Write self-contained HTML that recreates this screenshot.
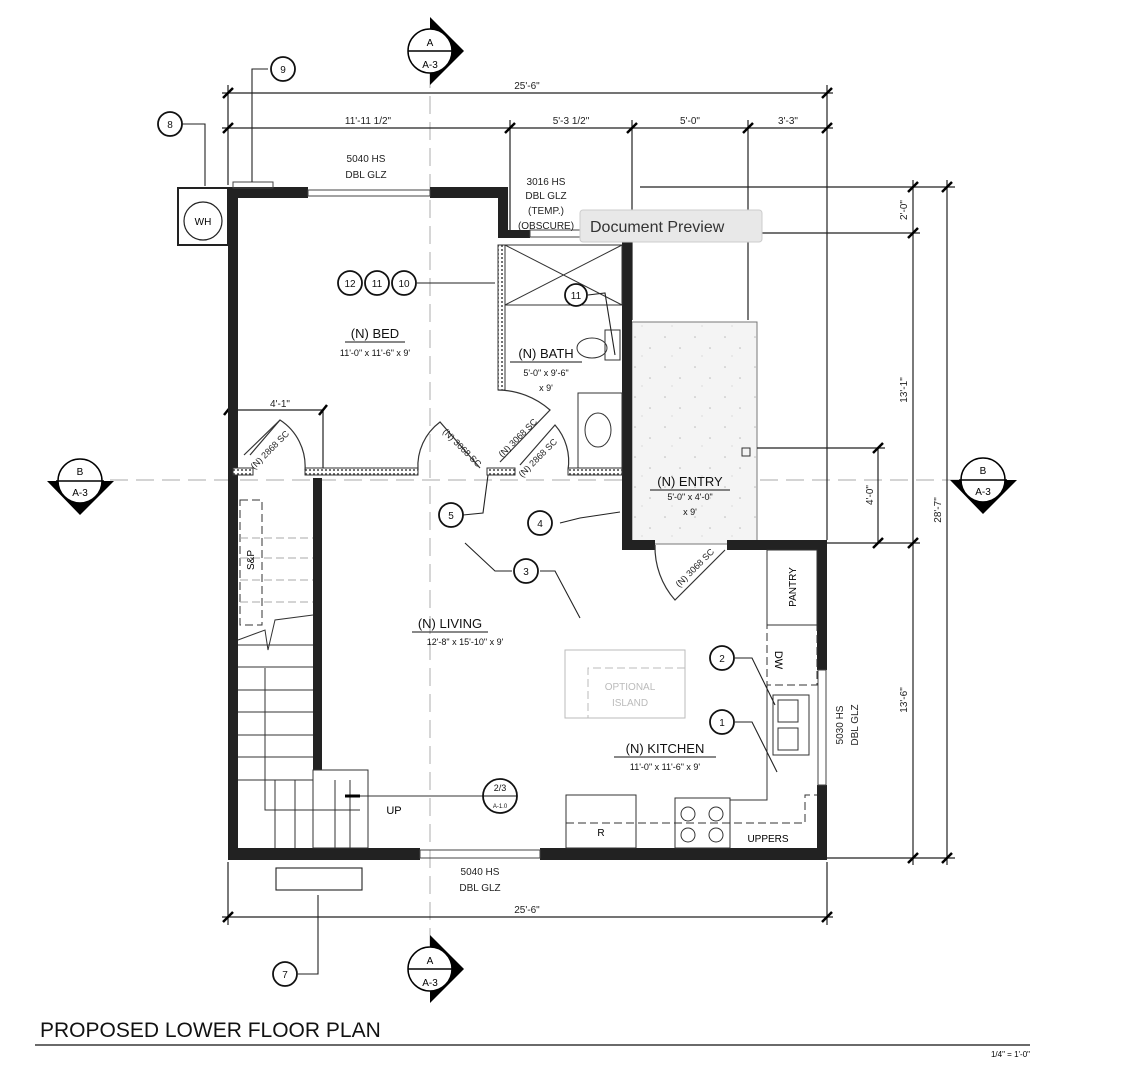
<!DOCTYPE html>
<html><head><meta charset="utf-8"><style>
html,body{margin:0;padding:0;background:#fff;}
svg{display:block;font-family:"Liberation Sans",sans-serif;}
</style></head><body>
<svg width="1140" height="1080" viewBox="0 0 1140 1080" xmlns="http://www.w3.org/2000/svg">
<defs>
<pattern id="hatch" width="4" height="4" patternUnits="userSpaceOnUse"><rect width="4" height="4" fill="#fff"/><circle cx="2" cy="2" r="1" fill="#444"/></pattern>
<pattern id="speck" width="30" height="30" patternUnits="userSpaceOnUse"><rect width="30" height="30" fill="#f4f4f4"/><circle cx="5" cy="7" r="0.8" fill="#bbb"/><circle cx="20" cy="18" r="0.8" fill="#bbb"/><circle cx="12" cy="26" r="0.6" fill="#ccc"/></pattern>
</defs>
<!-- section lines -->
<g stroke="#bbb" stroke-width="1.2" stroke-dasharray="18,8" fill="none">
<line x1="430" y1="70" x2="430" y2="950"/>
<line x1="110" y1="480" x2="960" y2="480"/>
</g>
<!-- entry -->
<rect x="632" y="322" width="125" height="222" fill="url(#speck)" stroke="#777" stroke-width="1"/>
<!-- dimension lines -->
<g stroke="#222" stroke-width="1.2" fill="none">
<line x1="222" y1="93" x2="833" y2="93"/>
<line x1="222" y1="128" x2="833" y2="128"/>
<line x1="228" y1="85" x2="228" y2="185"/><line x1="827" y1="85" x2="827" y2="540"/>
<line x1="510" y1="120" x2="510" y2="230"/><line x1="632" y1="120" x2="632" y2="320"/><line x1="748" y1="120" x2="748" y2="320"/>
<line x1="222" y1="917" x2="833" y2="917"/>
<line x1="228" y1="862" x2="228" y2="925"/><line x1="827" y1="862" x2="827" y2="925"/>
<line x1="913" y1="180" x2="913" y2="865"/><line x1="947" y1="180" x2="947" y2="865"/>
<line x1="640" y1="187" x2="955" y2="187"/>
<line x1="757" y1="233" x2="920" y2="233"/>
<line x1="757" y1="448" x2="885" y2="448"/>
<line x1="827" y1="543" x2="920" y2="543"/>
<line x1="827" y1="858" x2="955" y2="858"/>
<line x1="878" y1="448" x2="878" y2="543"/>
<line x1="228" y1="410" x2="323" y2="410"/><line x1="323" y1="410" x2="323" y2="470"/>
</g>
<g stroke="#000" stroke-width="2.5">
<line x1="223" y1="98" x2="233" y2="88"/><line x1="822" y1="98" x2="832" y2="88"/>
<line x1="223" y1="133" x2="233" y2="123"/><line x1="505" y1="133" x2="515" y2="123"/><line x1="627" y1="133" x2="637" y2="123"/><line x1="743" y1="133" x2="753" y2="123"/><line x1="822" y1="133" x2="832" y2="123"/>
<line x1="223" y1="922" x2="233" y2="912"/><line x1="822" y1="922" x2="832" y2="912"/>
<line x1="908" y1="192" x2="918" y2="182"/><line x1="908" y1="238" x2="918" y2="228"/><line x1="908" y1="548" x2="918" y2="538"/><line x1="908" y1="863" x2="918" y2="853"/>
<line x1="942" y1="192" x2="952" y2="182"/><line x1="942" y1="863" x2="952" y2="853"/>
<line x1="873" y1="453" x2="883" y2="443"/><line x1="873" y1="548" x2="883" y2="538"/>
<line x1="224" y1="415" x2="232" y2="405"/><line x1="319" y1="415" x2="327" y2="405"/>
</g>
<g font-size="10" fill="#222" text-anchor="middle">
<text x="527" y="89">25'-6"</text>
<text x="368" y="124">11'-11 1/2"</text>
<text x="571" y="124">5'-3 1/2"</text>
<text x="690" y="124">5'-0"</text>
<text x="788" y="124">3'-3"</text>
<text x="527" y="913">25'-6"</text>
<text x="280" y="407">4'-1"</text>
<text transform="translate(907,210) rotate(-90)">2'-0"</text>
<text transform="translate(907,390) rotate(-90)">13'-1"</text>
<text transform="translate(907,700) rotate(-90)">13'-6"</text>
<text transform="translate(941,510) rotate(-90)">28'-7"</text>
<text transform="translate(873,495) rotate(-90)">4'-0"</text>
<text x="366" y="162">5040 HS</text><text x="366" y="178">DBL GLZ</text>
<text x="546" y="185">3016 HS</text><text x="546" y="199">DBL GLZ</text><text x="546" y="214">(TEMP.)</text><text x="546" y="229">(OBSCURE)</text>
<text x="480" y="875">5040 HS</text><text x="480" y="891">DBL GLZ</text>
<text transform="translate(843,725) rotate(-90)">5030 HS</text>
<text transform="translate(858,725) rotate(-90)">DBL GLZ</text>
</g>
<!-- walls -->
<g fill="#222">
<rect x="228" y="187" width="10" height="673"/>
<rect x="228" y="187" width="80" height="11"/>
<rect x="430" y="187" width="78" height="11"/>
<rect x="498" y="187" width="10" height="50"/>
<rect x="498" y="230" width="32" height="8"/>
<rect x="622" y="240" width="10" height="310"/>
<rect x="622" y="540" width="33" height="10"/>
<rect x="727" y="540" width="100" height="10"/>
<rect x="817" y="540" width="10" height="130"/>
<rect x="817" y="785" width="10" height="75"/>
<rect x="228" y="848" width="192" height="12"/>
<rect x="540" y="848" width="287" height="12"/>
<rect x="313" y="478" width="9" height="292"/>
<rect x="178" y="188" width="50" height="57" fill="none" stroke="#222" stroke-width="2"/>
</g>
<g fill="none" stroke="#444" stroke-width="1">
<rect x="308" y="190" width="122" height="6"/>
<rect x="530" y="230" width="92" height="7"/>
<rect x="818" y="670" width="8" height="115"/>
<rect x="420" y="850" width="120" height="8"/>
<rect x="233" y="182" width="40" height="6"/>
</g>
<!-- hatched walls -->
<g fill="url(#hatch)" stroke="#333" stroke-width="1">
<rect x="233" y="468" width="20" height="7"/>
<rect x="305" y="468" width="113" height="7"/>
<rect x="487" y="468" width="28" height="7"/>
<rect x="568" y="468" width="54" height="7"/>
<rect x="498" y="245" width="7" height="145"/>
</g>
<!-- WH -->
<circle cx="203" cy="221" r="19" fill="none" stroke="#222" stroke-width="1.2"/>
<text x="203" y="225" font-size="10" text-anchor="middle">WH</text>
<!-- doors -->
<g fill="none" stroke="#333" stroke-width="1.2">
<path d="M305,470 A55,55 0 0 0 280,420 L250,455"/>
<path d="M418,470 A55,55 0 0 1 440,422 L480,468"/>
<path d="M498,390 A80,80 0 0 1 550,410 L500,462"/>
<path d="M568,470 A55,55 0 0 0 555,425 L520,465"/>
<path d="M655,545 A80,80 0 0 0 675,600 L725,550"/>
<line x1="244" y1="455" x2="280" y2="420"/>
</g>
<g font-size="9" fill="#222" text-anchor="middle">
<text transform="translate(272,452) rotate(-45)">(N) 2868 SC</text>
<text transform="translate(460,450) rotate(45)">(N) 3068 SC</text>
<text transform="translate(520,440) rotate(-45)">(N) 3068 SC</text>
<text transform="translate(540,460) rotate(-45)">(N) 2868 SC</text>
<text transform="translate(697,570) rotate(-45)">(N) 3068 SC</text>
</g>
<!-- bath fixtures -->
<g fill="none" stroke="#333" stroke-width="1">
<rect x="505" y="245" width="117" height="60"/>
<line x1="505" y1="245" x2="622" y2="305"/><line x1="622" y1="245" x2="505" y2="305"/>
<rect x="605" y="330" width="15" height="30"/>
<ellipse cx="592" cy="348" rx="15" ry="10"/>
<rect x="578" y="393" width="44" height="75"/>
<ellipse cx="598" cy="430" rx="13" ry="17"/>
<rect x="742" y="448" width="8" height="8"/>
</g>
<!-- stairs -->
<g fill="none" stroke="#333" stroke-width="1">
<line x1="238" y1="645" x2="313" y2="645"/>
<line x1="238" y1="667" x2="313" y2="667"/><line x1="238" y1="690" x2="313" y2="690"/><line x1="238" y1="712" x2="313" y2="712"/><line x1="238" y1="735" x2="313" y2="735"/><line x1="238" y1="757" x2="313" y2="757"/><line x1="238" y1="780" x2="313" y2="780"/>
<rect x="313" y="770" width="55" height="78"/>
<line x1="275" y1="780" x2="275" y2="848"/><line x1="295" y1="780" x2="295" y2="848"/><line x1="335" y1="780" x2="335" y2="848"/><line x1="350" y1="780" x2="350" y2="848"/>
<polyline points="265,668 265,810 360,810"/>
<polyline points="238,640 265,630 268,650 275,620 313,615"/>
<rect x="240" y="500" width="22" height="125" stroke-dasharray="8,4"/>
<line x1="240" y1="538" x2="313" y2="538" stroke-dasharray="8,4" stroke="#aaa"/>
<line x1="240" y1="558" x2="313" y2="558" stroke-dasharray="8,4" stroke="#aaa"/>
<line x1="240" y1="580" x2="313" y2="580" stroke-dasharray="8,4" stroke="#aaa"/>
<line x1="240" y1="602" x2="313" y2="602" stroke-dasharray="8,4" stroke="#aaa"/>
</g>
<line x1="345" y1="796" x2="360" y2="796" stroke="#000" stroke-width="3"/>
<line x1="360" y1="796" x2="485" y2="796" stroke="#333" stroke-width="1"/>
<text x="394" y="814" font-size="11" text-anchor="middle">UP</text>
<text transform="translate(254,560) rotate(-90)" font-size="10" text-anchor="middle">S&amp;P</text>
<!-- kitchen -->
<g fill="none" stroke="#333" stroke-width="1">
<rect x="767" y="550" width="50" height="75"/>
<rect x="767" y="625" width="50" height="60" stroke-dasharray="8,4"/>
<rect x="773" y="695" width="36" height="60"/>
<rect x="778" y="700" width="20" height="22"/><rect x="778" y="728" width="20" height="22"/>
<rect x="566" y="795" width="70" height="53"/>
<rect x="675" y="798" width="55" height="50"/>
<circle cx="688" cy="814" r="7"/><circle cx="716" cy="814" r="7"/><circle cx="688" cy="835" r="7"/><circle cx="716" cy="835" r="7"/>
<polyline points="566,823 805,823 805,795 817,795" stroke-dasharray="8,4"/>
<polyline points="730,800 767,800 767,685" />
<rect x="565" y="650" width="120" height="68" stroke="#bbb"/>
<polyline points="685,668 588,668 588,718" stroke="#bbb" stroke-dasharray="8,4"/>
</g>
<text x="630" y="690" font-size="10" fill="#bbb" text-anchor="middle">OPTIONAL</text>
<text x="630" y="706" font-size="10" fill="#bbb" text-anchor="middle">ISLAND</text>
<text transform="translate(796,587) rotate(-90)" font-size="10" text-anchor="middle">PANTRY</text>
<text transform="translate(775,660) rotate(90)" font-size="11" text-anchor="middle">DW</text>
<text x="601" y="836" font-size="10" text-anchor="middle">R</text>
<text x="768" y="842" font-size="10" text-anchor="middle">UPPERS</text>
<!-- room labels -->
<g fill="#111" text-anchor="middle">
<text x="375" y="338" font-size="13">(N) BED</text><line x1="345" y1="342" x2="405" y2="342" stroke="#111"/>
<text x="375" y="356" font-size="9">11'-0" x 11'-6" x 9'</text>
<text x="546" y="358" font-size="13">(N) BATH</text><line x1="510" y1="362" x2="582" y2="362" stroke="#111"/>
<text x="546" y="376" font-size="9">5'-0" x 9'-6"</text><text x="546" y="391" font-size="9">x 9'</text>
<text x="690" y="486" font-size="13">(N) ENTRY</text><line x1="650" y1="490" x2="730" y2="490" stroke="#111"/>
<text x="690" y="500" font-size="9">5'-0" x 4'-0"</text><text x="690" y="515" font-size="9">x 9'</text>
<text x="450" y="628" font-size="13">(N) LIVING</text><line x1="412" y1="632" x2="488" y2="632" stroke="#111"/>
<text x="465" y="645" font-size="9">12'-8" x 15'-10" x 9'</text>
<text x="665" y="753" font-size="13">(N) KITCHEN</text><line x1="614" y1="757" x2="716" y2="757" stroke="#111"/>
<text x="665" y="770" font-size="9">11'-0" x 11'-6" x 9'</text>
</g>
<!-- callouts -->
<g fill="none" stroke="#222" stroke-width="1.1">
<polyline points="180,124 205,124 205,186"/>
<polyline points="268,69 252,69 252,182"/>
<line x1="417" y1="283" x2="495" y2="283"/>
<polyline points="588,295 605,293 615,355"/>
<polyline points="463,515 483,513 488,475"/>
<polyline points="560,523 580,518 620,512"/>
<polyline points="512,571 495,571 465,543"/>
<polyline points="540,571 555,571 580,618"/>
<polyline points="735,658 752,658 775,705"/>
<polyline points="735,722 752,722 777,772"/>
<polyline points="298,974 318,974 318,895"/>
<rect x="276" y="868" width="86" height="22"/>
</g>
<g fill="#fff" stroke="#111" stroke-width="1.8" font-size="10">
<circle cx="283" cy="69" r="12"/><circle cx="170" cy="124" r="12"/>
<circle cx="350" cy="283" r="12"/><circle cx="377" cy="283" r="12"/><circle cx="404" cy="283" r="12"/>
<circle cx="576" cy="295" r="11"/>
<circle cx="451" cy="515" r="12"/><circle cx="540" cy="523" r="12"/><circle cx="526" cy="571" r="12"/>
<circle cx="722" cy="658" r="12"/><circle cx="722" cy="722" r="12"/><circle cx="285" cy="974" r="12"/>
<circle cx="500" cy="796" r="17"/>
</g>
<line x1="483" y1="796" x2="517" y2="796" stroke="#111" stroke-width="1"/>
<g font-size="10" text-anchor="middle" fill="#111">
<text x="283" y="73">9</text><text x="170" y="128">8</text>
<text x="350" y="287">12</text><text x="377" y="287">11</text><text x="404" y="287">10</text>
<text x="576" y="299">11</text>
<text x="451" y="519">5</text><text x="540" y="527">4</text><text x="526" y="575">3</text>
<text x="722" y="662">2</text><text x="722" y="726">1</text><text x="285" y="978">7</text>
<text x="500" y="791" font-size="9">2/3</text><text x="500" y="808" font-size="6">A-1.0</text>
</g>
<!-- section markers -->
<g font-size="10" text-anchor="middle">
<polygon points="430,17 464,51 430,85" fill="#000"/>
<circle cx="430" cy="51" r="22" fill="#fff" stroke="#000" stroke-width="1.5"/>
<line x1="408" y1="51" x2="452" y2="51" stroke="#000" stroke-width="1.5"/>
<text x="430" y="46">A</text><text x="430" y="68">A-3</text>
<polygon points="430,935 464,969 430,1003" fill="#000"/>
<circle cx="430" cy="969" r="22" fill="#fff" stroke="#000" stroke-width="1.5"/>
<line x1="408" y1="969" x2="452" y2="969" stroke="#000" stroke-width="1.5"/>
<text x="430" y="964">A</text><text x="430" y="986">A-3</text>
<polygon points="47,481 114,481 80,515" fill="#000"/>
<circle cx="80" cy="481" r="22" fill="#fff" stroke="#000" stroke-width="1.5"/>
<line x1="56" y1="481" x2="104" y2="481" stroke="#000" stroke-width="1.5"/>
<text x="80" y="475">B</text><text x="80" y="496">A-3</text>
<polygon points="950,480 1017,480 983,514" fill="#000"/>
<circle cx="983" cy="480" r="22" fill="#fff" stroke="#000" stroke-width="1.5"/>
<line x1="959" y1="480" x2="1007" y2="480" stroke="#000" stroke-width="1.5"/>
<text x="983" y="474">B</text><text x="983" y="495">A-3</text>
</g>
<!-- tooltip -->
<rect x="580" y="210" width="182" height="32" rx="3" fill="#e8e8e8" stroke="#ccc"/>
<text x="590" y="232" font-size="16" fill="#333">Document Preview</text>
<!-- title -->
<text x="40" y="1037" font-size="21" fill="#111">PROPOSED LOWER FLOOR PLAN</text>
<line x1="35" y1="1045" x2="1030" y2="1045" stroke="#111" stroke-width="1.2"/>
<text x="1030" y="1057" font-size="8" text-anchor="end">1/4" = 1'-0"</text>
</svg>
</body></html>
